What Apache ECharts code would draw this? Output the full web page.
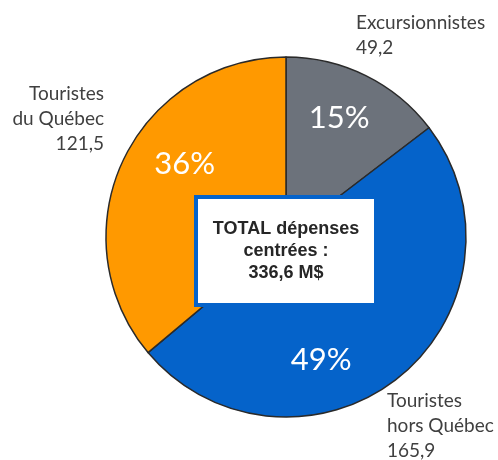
<!DOCTYPE html>
<html>
<head>
<meta charset="utf-8">
<script src="https://cdn.jsdelivr.net/npm/echarts@6/dist/echarts.min.js"></script>
<style>
  html, body { margin: 0; padding: 0; background: #fff; }
  #chart { width: 498px; height: 460px; }
</style>
</head>
<body>
<div id="chart"></div>
<script>
// slices, clockwise from 12 o'clock
const categories = ['Excursionnistes', 'Touristes\nhors Québec', 'Touristes\ndu Québec']
const values = [49.2, 165.9, 121.5]
const totalLabel = 'TOTAL dépenses\ncentrées :\n336,6 M$'

const colors = ['#6C727B', '#0563CA', '#FF9900']
// nudges for the % labels (Excel placed them off the mid-angle)
const pctShift = [[12, -36], [-23, 50], [-17, -34]]
// outer name labels: anchor x, middle y, alignment
const outerPos = [[356, 35, 'left'], [387, 426, 'left'], [104, 119, 'right']]

const fmt = v => String(v).replace('.', ',')

const chart = echarts.init(document.getElementById('chart'))
chart.setOption({
  animation: false,
  series: [
    {
      type: 'pie',
      center: [286, 237],
      radius: 180,
      startAngle: 90,
      clockwise: true,
      silent: true,
      itemStyle: { borderColor: '#2a2a2a', borderWidth: 1.5 },
      label: {
        show: true,
        position: 'inside',
        color: '#fff',
        fontFamily: 'Lato',
        fontSize: 31,
        formatter: p => Math.round(p.percent) + '%'
      },
      labelLine: { show: false },
      labelLayout: p => ({ dx: pctShift[p.dataIndex][0], dy: pctShift[p.dataIndex][1] }),
      data: values.map((v, i) => ({ name: categories[i], value: v, itemStyle: { color: colors[i] } }))
    },
    {
      // invisible copy, only carries the outside name/value labels
      type: 'pie',
      center: [286, 237],
      radius: 180,
      startAngle: 90,
      silent: true,
      itemStyle: { color: 'rgba(0,0,0,0)' },
      label: {
        show: true,
        position: 'outside',
        overflow: 'none',
        edgeDistance: 0,
        color: '#404040',
        fontFamily: 'Lato',
        fontSize: 19,
        lineHeight: 25,
        formatter: p => p.name + '\n' + fmt(p.value)
      },
      labelLine: { show: false },
      labelLayout: p => ({
        x: outerPos[p.dataIndex][0],
        y: outerPos[p.dataIndex][1],
        align: outerPos[p.dataIndex][2],
        verticalAlign: 'middle',
        width: 160
      }),
      data: values.map((v, i) => ({ name: categories[i], value: v }))
    }
  ],
  graphic: [
    {
      type: 'rect',
      shape: { x: 196, y: 197, width: 180, height: 108 },
      style: { fill: '#fff', stroke: '#0563CA', lineWidth: 4 },
      z: 100
    },
    {
      type: 'text',
      x: 286,
      y: 251,
      z: 101,
      style: {
        text: totalLabel,
        fill: '#262626',
        font: 'bold 18px "Liberation Sans", Arial, sans-serif',
        lineHeight: 22,
        align: 'center',
        verticalAlign: 'middle'
      }
    }
  ]
})
</script>
</body>
</html>
